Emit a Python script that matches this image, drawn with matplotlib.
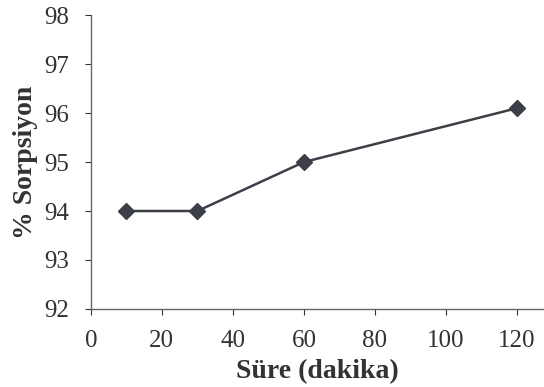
import matplotlib
matplotlib.use("Agg")
import matplotlib.pyplot as plt

# Sorption vs contact time
sure = [10, 30, 60, 120]
sorpsiyon = [94.0, 94.0, 95.0, 96.1]
x_ticks = [0, 20, 40, 60, 80, 100, 120]
y_ticks = [92, 93, 94, 95, 96, 97, 98]

plt.rcParams["font.family"] = ["Liberation Serif", "DejaVu Serif"]

fig = plt.figure(figsize=(5.44, 3.87), dpi=100)
ax = fig.add_axes([0.167, 0.2016, 0.833, 0.7594])

ax.plot(sure, sorpsiyon, color="#3c3f48", lw=1.8, marker="D", markersize=8,
        markerfacecolor="#3c3f48", markeredgecolor="#3c3f48")

ax.set_xlim(0, 127.6)
ax.set_ylim(92, 98)
ax.set_xticks(x_ticks)
ax.set_yticks(y_ticks)
ax.tick_params(labelsize=18, colors="#333333", length=4, width=0.8)
ax.tick_params(axis="x", pad=11)
ax.tick_params(axis="y", pad=12)
for s in ["top", "right"]:
    ax.spines[s].set_visible(False)
for s in ["left", "bottom"]:
    ax.spines[s].set_color("#666666")
    ax.spines[s].set_linewidth(1.0)

ax.set_xlabel("Süre (dakika)", fontsize=20, fontweight="bold", color="#333333", labelpad=5)
ax.set_ylabel("% Sorpsiyon", fontsize=20, fontweight="bold", color="#333333", labelpad=4)

fig.savefig("out.png", dpi=100)
